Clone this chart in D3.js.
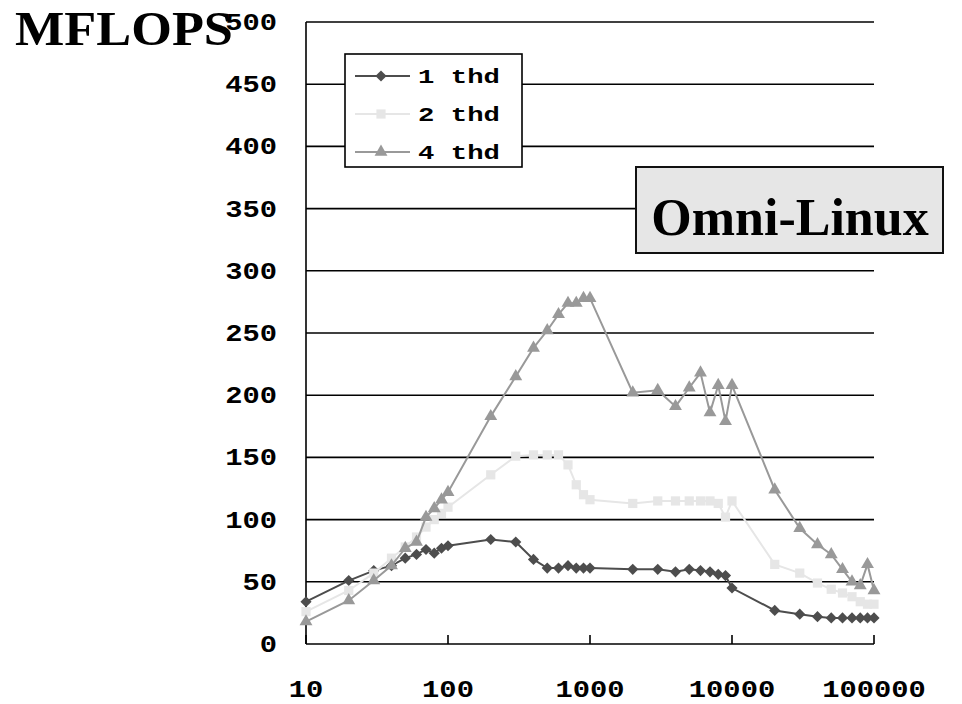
<!DOCTYPE html>
<html>
<head>
<meta charset="utf-8">
<style>
    body { margin: 0; background: #fff; }
    svg { display: block; }
    .mono { font-family: 'Liberation Mono', 'Courier New', monospace; font-weight: bold; fill: #000; }
    .serif { font-family: 'Liberation Serif', 'Times New Roman', serif; font-weight: bold; fill: #000; }
</style>
</head>
<body>
<svg width="962" height="704"></svg>

<script src="https://d3js.org/d3.v7.min.js"></script>
<script>
// problem sizes (log axis)
let sizes = [10, 20, 30, 40, 50, 60, 70, 80, 90, 100,
    200, 300, 400, 500, 600, 700, 800, 900, 1000,
    2000, 3000, 4000, 5000, 6000, 7000, 8000, 9000, 10000,
    20000, 30000, 40000, 50000, 60000, 70000, 80000, 90000, 100000]

let thd1 = [34, 51, 59, 63, 69, 72, 76, 73, 77, 79,
    84, 82, 68, 61, 61, 63, 61, 61, 61,
    60, 60, 58, 60, 59, 58, 56, 55, 45,
    27, 24, 22, 21, 21, 21, 21, 21, 21]

let thd2 = [26, 43, 57, 69, 78, 86, 94, 100, 105, 110,
    136, 151, 152, 152, 152, 144, 128, 120, 116,
    113, 115, 115, 115, 115, 115, 113, 102, 115,
    64, 57, 49, 44, 41, 38, 34, 32, 32]

let thd4 = [18, 35, 51, 63, 77, 82, 102, 109, 116, 122,
    183, 215, 238, 252, 265, 274, 274, 278, 278,
    202, 204, 191, 206, 218, 186, 208, 179, 208,
    124, 93, 80, 72, 60, 50, 47, 64, 43]

let seriesNames = ["1 thd", "2 thd", "4 thd"]
let xTicks = [10, 100, 1000, 10000, 100000]
let yTicks = [0, 50, 100, 150, 200, 250, 300, 350, 400, 450, 500]

let series = [
    { name: seriesNames[0], values: thd1, color: "#4d4d4d", symbol: "diamond" },
    { name: seriesNames[1], values: thd2, color: "#e6e6e6", symbol: "square" },
    { name: seriesNames[2], values: thd4, color: "#999999", symbol: "triangle" }
]

let svg = d3.select("svg")

let x = d3.scaleLog().domain([10, 100000]).range([306, 874])
let y = d3.scaleLinear().domain([0, 500]).range([644, 22])

// gridlines
svg.append("g")
    .selectAll("line")
    .data(yTicks.filter(d => d > 0))
    .join("line")
    .attr("x1", x(10)).attr("x2", x(100000))
    .attr("y1", d => y(d)).attr("y2", d => y(d))
    .attr("stroke", "#000").attr("stroke-width", 1.6)

// axes
svg.append("line")
    .attr("x1", x(10)).attr("x2", x(10))
    .attr("y1", y(0)).attr("y2", y(500))
    .attr("stroke", "#000").attr("stroke-width", 1.6)
svg.append("line")
    .attr("x1", x(10)).attr("x2", x(100000))
    .attr("y1", y(0)).attr("y2", y(0))
    .attr("stroke", "#000").attr("stroke-width", 1.6)
svg.append("g")
    .selectAll("line")
    .data(xTicks)
    .join("line")
    .attr("x1", d => x(d)).attr("x2", d => x(d))
    .attr("y1", y(0)).attr("y2", y(0) - 9)
    .attr("stroke", "#000").attr("stroke-width", 1.6)

// tick labels (the original font is wider than Courier, so stretch a little)
svg.append("g")
    .selectAll("text")
    .data(yTicks)
    .join("text")
    .attr("class", "mono")
    .attr("text-anchor", "end")
    .attr("font-size", 24)
    .attr("transform", d => `translate(277,${y(d) + 8}) scale(1.2,1)`)
    .text(d => d)

svg.append("g")
    .selectAll("text")
    .data(xTicks)
    .join("text")
    .attr("class", "mono")
    .attr("text-anchor", "middle")
    .attr("font-size", 24)
    .attr("transform", d => `translate(${x(d)},697) scale(1.2,1)`)
    .text(d => d)

// symbols
function symbolPath(kind) {
    if (kind == "diamond") return d3.symbol(d3.symbolSquare, 62)()
    if (kind == "square") return d3.symbol(d3.symbolSquare, 85)()
    return d3.symbol(d3.symbolTriangle, 72)()
}

let line = d3.line()
    .x(d => x(d[0]))
    .y(d => y(d[1]))

series.forEach(s => {
    let pts = sizes.map((v, i) => [v, s.values[i]])
    let g = svg.append("g")
    g.append("path")
        .datum(pts)
        .attr("d", line)
        .attr("fill", "none")
        .attr("stroke", s.color)
        .attr("stroke-width", 2)
    g.selectAll(".pt")
        .data(pts)
        .join("path")
        .attr("class", "pt")
        .attr("d", symbolPath(s.symbol))
        .attr("transform", d => `translate(${x(d[0])},${y(d[1])})` + (s.symbol == "diamond" ? " rotate(45)" : ""))
        .attr("fill", s.color)
})

// legend
let legend = svg.append("g")
legend.append("rect")
    .attr("x", 345).attr("y", 54)
    .attr("width", 177).attr("height", 113)
    .attr("fill", "#fff").attr("stroke", "#000").attr("stroke-width", 1.6)

let items = legend.selectAll(".item")
    .data(series)
    .join("g")
    .attr("class", "item")
    .attr("transform", (d, i) => `translate(0,${[76, 114, 152][i]})`)
items.append("line")
    .attr("x1", 355).attr("x2", 410)
    .attr("stroke", d => d.color).attr("stroke-width", 2)
items.append("path")
    .attr("d", d => symbolPath(d.symbol))
    .attr("transform", d => "translate(381,0)" + (d.symbol == "diamond" ? " rotate(45)" : ""))
    .attr("fill", d => d.color)
items.append("text")
    .attr("class", "mono")
    .attr("font-size", 21)
    .attr("transform", "translate(418,7) scale(1.3,1)")
    .text(d => d.name)

// box label
svg.append("rect")
    .attr("x", 636).attr("y", 167)
    .attr("width", 307).attr("height", 86)
    .attr("fill", "#e6e6e6").attr("stroke", "#111").attr("stroke-width", 2)
svg.append("text")
    .attr("class", "serif")
    .attr("x", 790).attr("y", 235)
    .attr("text-anchor", "middle")
    .attr("font-size", 52)
    .text("Omni-Linux")

// y title
svg.append("text")
    .attr("class", "serif")
    .attr("font-size", 48)
    .attr("transform", "translate(15,45) scale(1.09,1)")
    .text("MFLOPS")
</script>
</body>
</html>
